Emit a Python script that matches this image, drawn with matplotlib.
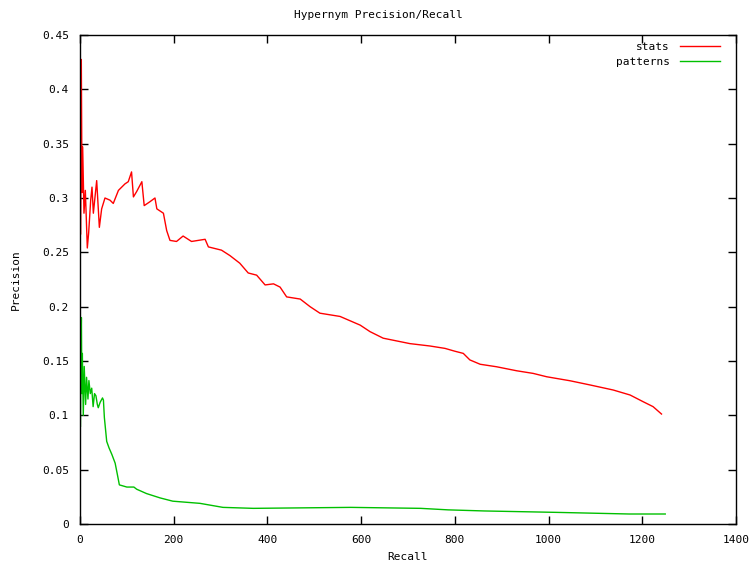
import matplotlib
matplotlib.use("Agg")
import matplotlib.pyplot as plt
from matplotlib.ticker import FuncFormatter

stats_recall = [1.4, 2.8, 4.3, 5.7, 8.5, 11.4, 15.6, 18.5, 22.8, 25.6, 28.5, 35.6, 41.3, 46.2,
                53.3, 64, 71, 82, 96, 103, 110, 114, 121, 132, 137, 149, 160, 164, 178, 185,
                192, 206, 220, 238, 267, 274, 302, 320, 341, 359, 377, 395, 413, 427, 441,
                470, 491, 512, 555, 598, 619, 647, 704, 747, 779, 800, 818, 832, 854, 889,
                932, 967, 996, 1046, 1088, 1138, 1174, 1202, 1223, 1241]
stats_precision = [0.267, 0.4275, 0.305, 0.347, 0.286, 0.307, 0.254, 0.268, 0.298, 0.31, 0.286,
                   0.316, 0.273, 0.290, 0.300, 0.298, 0.295, 0.307, 0.313, 0.315, 0.324, 0.301,
                   0.306, 0.315, 0.293, 0.2965, 0.300, 0.290, 0.286, 0.270, 0.261, 0.260,
                   0.265, 0.260, 0.262, 0.255, 0.252, 0.247, 0.240, 0.231, 0.229, 0.220,
                   0.221, 0.218, 0.209, 0.207, 0.200, 0.194, 0.191, 0.183, 0.177, 0.171,
                   0.166, 0.1638, 0.1616, 0.159, 0.157, 0.151, 0.147, 0.1447, 0.141, 0.1386,
                   0.1355, 0.1318, 0.128, 0.1233, 0.1187, 0.1125, 0.108, 0.1012]

patterns_recall = [1, 2, 3, 4, 5, 7, 9, 12, 14, 17, 19, 22, 25, 28, 31, 34, 37, 39, 43, 48, 50,
                   52, 57, 62, 68, 75, 80, 84, 100, 115, 121, 142, 171, 198, 256, 305, 370,
                   578, 727, 786, 863, 1017, 1172, 1249]
patterns_precision = [0.09, 0.16, 0.19, 0.12, 0.157, 0.10, 0.145, 0.11, 0.135, 0.115, 0.132,
                      0.12, 0.125, 0.108, 0.12, 0.118, 0.11, 0.107, 0.112, 0.116, 0.114, 0.098,
                      0.076, 0.07, 0.064, 0.056, 0.045, 0.036, 0.034, 0.034, 0.032, 0.028,
                      0.024, 0.021, 0.019, 0.0153, 0.0144, 0.0153, 0.0144, 0.013, 0.012,
                      0.0107, 0.0092, 0.0092]

x_ticks = [0, 200, 400, 600, 800, 1000, 1200, 1400]
y_ticks = [0, 0.05, 0.1, 0.15, 0.2, 0.25, 0.3, 0.35, 0.4, 0.45]

font = "DejaVu Sans Mono"
fs = 8

fig = plt.figure(figsize=(7.56, 5.63), dpi=100)
ax = fig.add_axes([80 / 756, 39 / 563, 656 / 756, 489 / 563])

ax.plot(stats_recall, stats_precision, color="#ff0000", lw=1, label="stats")
ax.plot(patterns_recall, patterns_precision, color="#00c000", lw=1, label="patterns")

ax.set_xlim(0, 1400)
ax.set_ylim(0, 0.45)
ax.set_xticks(x_ticks)
ax.set_yticks(y_ticks)
ax.yaxis.set_major_formatter(FuncFormatter(lambda v, p: "%g" % v))
ax.xaxis.set_major_formatter(FuncFormatter(lambda v, p: "%g" % v))
ax.tick_params(direction="in", length=6, width=1, top=True, right=True,
               labelsize=fs, pad=8, colors="black")
for lab in ax.get_xticklabels() + ax.get_yticklabels():
    lab.set_fontfamily(font)
for s in ax.spines.values():
    s.set_linewidth(1)

ax.set_xlabel("Recall", fontsize=fs, fontfamily=font, labelpad=5)
ax.set_ylabel("Precision", fontsize=fs, fontfamily=font, labelpad=15)
fig.text(0.5, 1 - 15 / 563, "Hypernym Precision/Recall", ha="center", va="center",
         fontsize=fs, fontfamily=font)

leg = ax.legend(loc="upper right", markerfirst=False, frameon=False,
                prop={"family": font, "size": fs}, handlelength=3.6,
                handletextpad=0.9, labelspacing=0.45, borderpad=0, borderaxespad=0,
                bbox_to_anchor=(720 / 756, 1 - 42 / 563), bbox_transform=fig.transFigure)

fig.savefig("out.png", dpi=100)
